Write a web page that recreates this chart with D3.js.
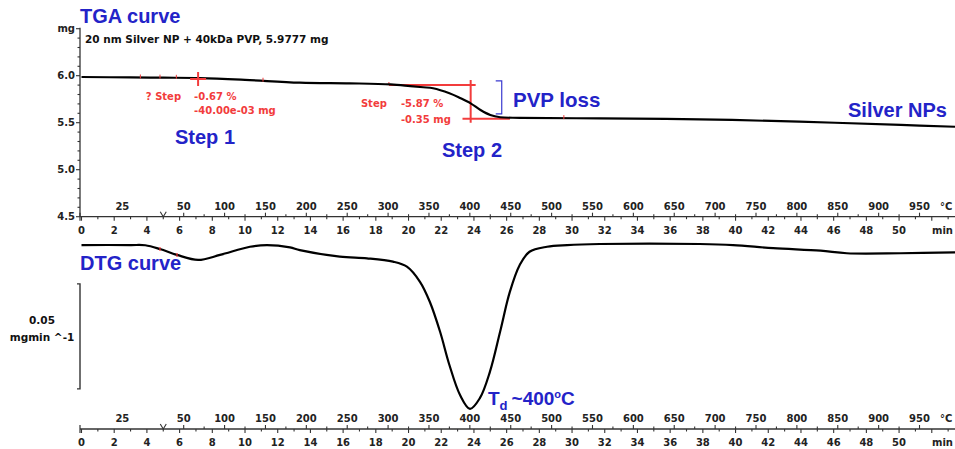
<!DOCTYPE html>
<html><head><meta charset="utf-8">
<script src="https://cdn.jsdelivr.net/npm/d3@7"></script>
<style>body{margin:0;background:#fff}svg{display:block}</style>
</head><body><svg id="c" width="955" height="449"></svg>
<script>
// ---------- data ----------
const tgaTime = [0, 3, 5, 7.25, 10, 13.35, 16.4, 18.9, 20.1, 20.9, 21.5, 22.5, 23.15, 23.8, 24.4, 25.0, 25.6, 26.8, 31.7, 37.8, 43.9, 50.1, 53.42];
const tgaMass = [5.986, 5.982, 5.979, 5.975, 5.956, 5.926, 5.919, 5.908, 5.890, 5.877, 5.866, 5.813, 5.763, 5.706, 5.635, 5.582, 5.558, 5.552, 5.546, 5.536, 5.511, 5.476, 5.457];
const dtgTime = [0, 3, 3.9, 4.8, 5.84, 7.13, 8.47, 10.3, 11.35, 12.75, 13.35, 15.8, 17.46, 19.05, 19.9, 20.7, 21.3, 21.93, 22.5, 23.15, 23.76, 24.37, 24.98, 25.6, 26.2, 26.8, 27.4, 28.47, 29.7, 31.7, 37.8, 39.85, 42.3, 45.2, 46.8, 50.1, 53.42];
const dtgRate = [-0.0005, -0.0005, -0.0006, -0.0024, -0.0052, -0.0076, -0.0052, -0.0013, -0.0005, -0.0016, -0.0029, -0.0060, -0.0068, -0.0084, -0.0108, -0.0180, -0.0275, -0.0418, -0.0576, -0.0719, -0.0785, -0.0733, -0.0608, -0.0418, -0.0227, -0.0100, -0.0037, -0.0013, -0.0005, 0, 0, -0.0005, -0.0020, -0.0032, -0.0044, -0.0044, -0.0040];
const timeTickLabels = d3.range(0, 51, 2);
const tempTickLabels = [25, 50, 100, 150, 200, 250, 300, 350, 400, 450, 500, 550, 600, 650, 700, 750, 800, 850, 900, 950];
const massTickLabels = [4.5, 5.0, 5.5, 6.0];
const isoMinutes = 5, startTemp = 25, heatRate = 20; // heating program
const step1 = {time: 7.13, mass: 5.965, label: "? Step", pct: "-0.67 %", mg: "-40.00e-03 mg"};
const step2 = {tStart: 18.8, tMid: 23.8, tEnd: 26.2, tLowStart: 23.3, upper: 5.901, lower: 5.542, label: "Step", pct: "-5.87 %", mg: "-0.35 mg"};
const bracket = {time: 25.7, top: 5.944, bottom: 5.593};
const dtgBar = {top: -0.019, bottom: -0.069, value: "0.05", unit: "mgmin ^-1"};
const tgaMarks = [3.6, 4.8, 5.8, 11.1, 29.5];
const dtgMarks = [4.8, 5.84];

// ---------- setup ----------
const svg = d3.select("#c");
const W = 955;
const x = d3.scaleLinear().domain([0, 53.42]).range([81.5, 955]);
const yM = d3.scaleLinear().domain([4.5, 6.5]).range([216.7, 28.7]);
const yD = d3.scaleLinear().domain([0, -0.08]).range([244, 412]);
const axisColor = "#333";
const tickFont = "DejaVu Sans, Verdana, sans-serif";
const blue = "#2323c8", red = "#f23c3c";
const tempToTime = T => T <= startTemp ? isoMinutes / 2 : isoMinutes + (T - startTemp) / heatRate;

// ---------- axes ----------
function xAxis(yPos) {
  const g = svg.append("g");
  g.append("line").attr("x1", 80).attr("x2", W).attr("y1", yPos).attr("y2", yPos)
    .attr("stroke", axisColor).attr("stroke-width", 1.3);
  const tmin = d3.range(0, 54, 1);
  g.selectAll(".tt").data(tmin).join("line")
    .attr("x1", d => x(d)).attr("x2", d => x(d))
    .attr("y1", yPos).attr("y2", d => yPos + (d % 2 === 0 ? 4 : 2.5))
    .attr("stroke", axisColor).attr("stroke-width", 1.1);
  const temps = d3.range(50, 951, 25);
  g.selectAll(".tp").data(temps).join("line")
    .attr("x1", d => x(tempToTime(d))).attr("x2", d => x(tempToTime(d)))
    .attr("y1", yPos).attr("y2", d => yPos - (d % 50 === 0 ? 4 : 2.5))
    .attr("stroke", axisColor).attr("stroke-width", 1.1);
  const bx = x(isoMinutes);
  g.append("path").attr("d", `M${bx - 3},${yPos - 5}L${bx},${yPos}L${bx + 3},${yPos - 5}`)
    .attr("fill", "none").attr("stroke", axisColor).attr("stroke-width", 1.1);
  g.append("line").attr("x1", 80).attr("x2", 80).attr("y1", yPos - 4).attr("y2", yPos + 4)
    .attr("stroke", axisColor).attr("stroke-width", 1.2);
  g.selectAll(".tl").data(timeTickLabels).join("text")
    .attr("x", d => x(d)).attr("y", yPos + 17).attr("text-anchor", "middle")
    .attr("font-family", tickFont).attr("font-weight", "bold").attr("font-size", 10)
    .attr("fill", "#222").text(d => d);
  g.selectAll(".pl").data(tempTickLabels).join("text")
    .attr("x", d => x(tempToTime(d))).attr("y", yPos - 7).attr("text-anchor", "middle")
    .attr("font-family", tickFont).attr("font-weight", "bold").attr("font-size", 10)
    .attr("fill", "#222").text(d => d);
  g.append("text").attr("x", 932).attr("y", yPos + 17)
    .attr("font-family", tickFont).attr("font-weight", "bold").attr("font-size", 10)
    .attr("fill", "#222").text("min");
  g.append("text").attr("x", 940).attr("y", yPos - 7)
    .attr("font-family", tickFont).attr("font-weight", "bold").attr("font-size", 10)
    .attr("fill", "#222").text("°C");
}
xAxis(yM(4.5));
xAxis(429);

// TGA y axis
const ya = svg.append("g");
ya.append("line").attr("x1", 80).attr("x2", 80).attr("y1", yM(6.5) - 1).attr("y2", yM(4.5))
  .attr("stroke", axisColor).attr("stroke-width", 1.3);
const minor = d3.range(45, 66, 1).map(d => d / 10);
ya.selectAll(".mt").data(minor).join("line")
  .attr("x1", d => 80 - (Math.round(d * 10) % 5 === 0 ? 4 : 2.5)).attr("x2", 80)
  .attr("y1", d => yM(d)).attr("y2", d => yM(d))
  .attr("stroke", axisColor).attr("stroke-width", 1.1);
ya.selectAll(".ml").data(massTickLabels).join("text")
  .attr("x", 75).attr("y", d => yM(d)).attr("dy", "0.35em").attr("text-anchor", "end")
  .attr("font-family", tickFont).attr("font-weight", "bold").attr("font-size", 10)
  .attr("fill", "#222").text(d => d.toFixed(1));
ya.append("text").attr("x", 75).attr("y", yM(6.5)).attr("dy", "0.3em").attr("text-anchor", "end")
  .attr("font-family", tickFont).attr("font-weight", "bold").attr("font-size", 10)
  .attr("fill", "#222").text("mg");

// ---------- curves ----------
const tga = tgaTime.map((t, i) => [t, tgaMass[i]]);
const dtg = dtgTime.map((t, i) => [t, dtgRate[i]]);
const lineM = d3.line().x(d => x(d[0])).y(d => yM(d[1])).curve(d3.curveCatmullRom);
const lineD = d3.line().x(d => x(d[0])).y(d => yD(d[1])).curve(d3.curveCatmullRom);
const massAt = t => d3.scaleLinear().domain(tgaTime).range(tgaMass)(t);
const rateAt = t => d3.scaleLinear().domain(dtgTime).range(dtgRate)(t);

const rl = svg.append("g").attr("stroke", red).attr("stroke-width", 2);
rl.append("line").attr("x1", x(step2.tStart)).attr("x2", x(step2.tMid) + 5)
  .attr("y1", yM(step2.upper)).attr("y2", yM(step2.upper));
rl.append("line").attr("x1", x(step2.tLowStart)).attr("x2", x(step2.tEnd))
  .attr("y1", yM(step2.lower)).attr("y2", yM(step2.lower));
rl.append("line").attr("x1", x(step2.tMid)).attr("x2", x(step2.tMid))
  .attr("y1", yM(step2.upper) - 5).attr("y2", yM(step2.lower) + 4);
rl.append("line").attr("x1", x(step2.tStart)).attr("x2", x(step2.tStart))
  .attr("y1", yM(step2.upper) - 3).attr("y2", yM(step2.upper)).attr("stroke-width", 1);

svg.append("path").datum(tga).attr("d", lineM).attr("fill", "none")
  .attr("stroke", "#000").attr("stroke-width", 2.2);
svg.append("path").datum(dtg).attr("d", lineD).attr("fill", "none")
  .attr("stroke", "#000").attr("stroke-width", 2.2);

svg.selectAll(".tm").data(tgaMarks).join("line")
  .attr("x1", d => x(d)).attr("x2", d => x(d))
  .attr("y1", d => yM(massAt(d)) - 3).attr("y2", d => yM(massAt(d)) + 1)
  .attr("stroke", red).attr("stroke-width", 1);
svg.selectAll(".dm").data(dtgMarks).join("line")
  .attr("x1", d => x(d)).attr("x2", d => x(d))
  .attr("y1", d => yD(rateAt(d)) - 2).attr("y2", d => yD(rateAt(d)) + 2)
  .attr("stroke", red).attr("stroke-width", 1.2);

const s1x = x(step1.time), s1y = yM(step1.mass);
svg.append("line").attr("x1", s1x - 8).attr("x2", s1x + 8).attr("y1", s1y).attr("y2", s1y)
  .attr("stroke", red).attr("stroke-width", 2);
svg.append("line").attr("x1", s1x).attr("x2", s1x).attr("y1", s1y - 7).attr("y2", s1y + 7)
  .attr("stroke", red).attr("stroke-width", 2);

function redText(xp, yp, txt, anchor) {
  svg.append("text").attr("x", xp).attr("y", yp).attr("text-anchor", anchor || "start")
    .attr("font-family", tickFont).attr("font-weight", "bold").attr("font-size", 10)
    .attr("fill", red).text(txt);
}
redText(s1x - 17, s1y + 21, step1.label, "end");
redText(s1x - 4, s1y + 21, step1.pct);
redText(s1x - 4, s1y + 35, step1.mg);
redText(x(step2.tStart) - 28, yM(step2.upper) + 22, step2.label);
redText(x(step2.tStart) + 12, yM(step2.upper) + 22, step2.pct);
redText(x(step2.tStart) + 12, yM(step2.lower) + 4, step2.mg);

const bx = x(bracket.time);
svg.append("path")
  .attr("d", `M${bx - 6},${yM(bracket.top)}H${bx}V${yM(bracket.bottom)}H${bx - 6}`)
  .attr("fill", "none").attr("stroke", "#3a3ad0").attr("stroke-width", 1.2);

const sb = svg.append("g");
sb.append("path")
  .attr("d", `M77,${yD(dtgBar.top)}H80V${yD(dtgBar.bottom)}H77`)
  .attr("fill", "none").attr("stroke", axisColor).attr("stroke-width", 1.4);
const mid = (yD(dtgBar.top) + yD(dtgBar.bottom)) / 2;
sb.append("text").attr("x", 42).attr("y", mid - 12).attr("text-anchor", "middle")
  .attr("font-family", tickFont).attr("font-weight", "bold").attr("font-size", 10.5)
  .attr("fill", "#111").text(dtgBar.value);
sb.append("text").attr("x", 42).attr("y", mid + 5).attr("text-anchor", "middle")
  .attr("font-family", tickFont).attr("font-weight", "bold").attr("font-size", 10.5)
  .attr("fill", "#111").text(dtgBar.unit);

const lf = "Liberation Sans, Arial, sans-serif";
function blueText(xp, yp, txt, size) {
  return svg.append("text").attr("x", xp).attr("y", yp).attr("font-family", lf)
    .attr("font-weight", "bold").attr("font-size", size || 20).attr("fill", blue).text(txt);
}
blueText(80, 23, "TGA curve");
blueText(80, 270, "DTG curve");
blueText(175, 144, "Step 1");
blueText(442, 157, "Step 2");
blueText(513, 107, "PVP loss", 20.5);
blueText(848, 117, "Silver NPs");

svg.append("text").attr("x", 85).attr("y", 43).attr("font-family", tickFont)
  .attr("font-weight", "bold").attr("font-size", 10.5).attr("fill", "#111")
  .text("20 nm Silver NP + 40kDa PVP, 5.9777 mg");

const iMin = d3.minIndex(dtgRate);
const td = svg.append("text").attr("x", x(dtgTime[iMin]) + 18).attr("y", yD(dtgRate[iMin]) - 4)
  .attr("font-family", lf).attr("font-weight", "bold").attr("font-size", 19).attr("fill", blue);
td.append("tspan").text("T");
td.append("tspan").attr("font-size", 13).attr("dy", 5).text("d");
td.append("tspan").attr("dy", -5).attr("dx", 4).text("~400");
td.append("tspan").attr("font-size", 11).attr("dy", -7).text("o");
td.append("tspan").attr("dy", 7).text("C");
</script></body></html>
